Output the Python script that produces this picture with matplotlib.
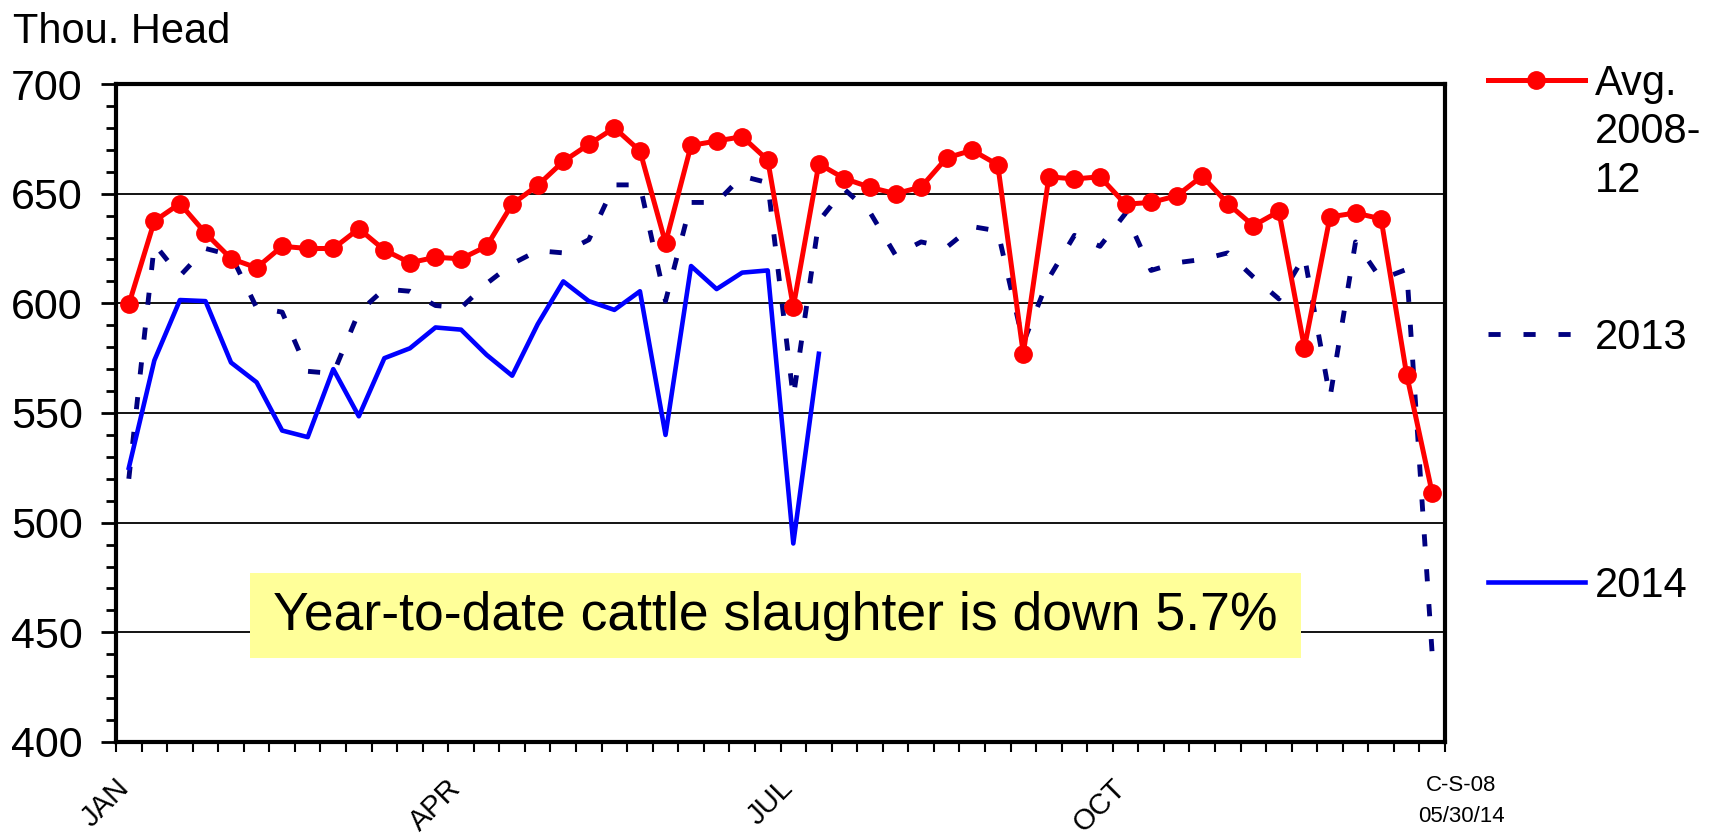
import numpy as np
import matplotlib
matplotlib.use('Agg')
import matplotlib.pyplot as plt
import matplotlib.transforms as mtransforms
from matplotlib.lines import Line2D
from matplotlib.patches import Rectangle
from matplotlib.ticker import MultipleLocator

plt.rcParams['font.family'] = ['Liberation Sans', 'DejaVu Sans']

# Weekly federally inspected cattle slaughter, thousand head (weeks 1-52)
avg_2008_12 = [599.5, 637.5, 645.5, 632, 620.4, 616.2, 626, 625, 625, 634,
               624.3, 618.5, 621, 620.3, 626, 645.2, 653.8, 664.7, 672.5, 680,
               669.5, 627.5, 672, 674, 676, 665.3, 598.3, 663.6, 656.9, 652.9,
               650, 653, 666.3, 669.8, 663.2, 577, 657.7, 656.7, 657.7, 645.2,
               646, 649, 658, 645.5, 635.4, 641.9, 579.8, 639.4, 641.2, 638.5,
               567.5, 513.5]
y2013 = [520, 627, 612.5, 625, 622, 598, 596, 569, 568, 596,
         606.5, 605.5, 599, 598, 609, 618, 624, 623, 629, 654,
         654, 601, 646, 646, 658, 655, 557, 637.5, 652, 641.5,
         622, 628, 625.5, 635, 633, 582, 611.5, 631, 626, 641,
         615, 618.5, 620, 623, 612, 602, 621.5, 557, 628, 611,
         615.5, 440]
y2014 = [525, 574, 601.5, 601, 573, 564, 542, 539, 570, 548.5,
         575, 579.5, 589, 588, 576.5, 567, 590.5, 610, 601, 597,
         605.5, 540, 617, 606.5, 614, 615, 490.5, 577]

month_labels = ['JAN', 'APR', 'JUL', 'OCT']
month_weeks = [0, 13, 26, 39]

weeks = np.arange(len(avg_2008_12)) + 0.5
dash13 = (0, (2.5, 4.7))

fig = plt.figure(figsize=(17.19, 8.35), dpi=100)
ax = fig.add_axes([0.0675, 0.1114, 0.7731, 0.788])

ax.plot(weeks, y2013, color='#000080', lw=3.5, linestyle=dash13,
        dash_capstyle='butt', zorder=2)
ax.plot(weeks[:len(y2014)], y2014, color='#0000FF', lw=3.3, zorder=3)
ax.plot(weeks, avg_2008_12, color='#FF0000', lw=3.6, marker='o', ms=12.5, zorder=4)

ax.set_xlim(0, 52)
ax.set_ylim(400, 700)
ax.set_yticks(range(400, 701, 50))
ax.yaxis.set_minor_locator(MultipleLocator(10))
ax.set_xticks(month_weeks)
ax.set_xticklabels(month_labels)
ax.set_xticks(range(0, 53), minor=True)
ax.yaxis.grid(True, color='black', lw=1.3)
ax.set_axisbelow(True)

for s in ax.spines.values():
    s.set_linewidth(3)

ax.tick_params(axis='y', which='major', length=11, width=2, labelsize=31, pad=13)
ax.tick_params(axis='y', which='minor', length=7, width=2)
ax.tick_params(axis='x', which='both', length=7, width=1.5, labelsize=21, pad=23)
shift = mtransforms.ScaledTranslation(6 / 72, 0, fig.dpi_scale_trans)
for lab in ax.get_xticklabels():
    lab.set_rotation(45)
    lab.set_ha('right')
    lab.set_va('center')
    lab.set_rotation_mode('anchor')
    lab.set_transform(lab.get_transform() + shift)

# Annotation box
ax.add_patch(Rectangle((0.1008, 0.1277), 0.7908, 0.1291, transform=ax.transAxes,
                       fc='#FFFF99', ec='none', zorder=5))
ax.text(0.4962, 0.192, 'Year-to-date cattle slaughter is down 5.7%',
        transform=ax.transAxes, ha='center', va='center', fontsize=38.5, zorder=6)

# Legend, split into pieces to match the uneven spacing
leg_kw = dict(loc='center left', frameon=False, fontsize=30, handlelength=2.33,
              handletextpad=0.25, borderaxespad=0, borderpad=0)
h_avg = Line2D([], [], color='#FF0000', lw=3.6, marker='o', ms=12.5)
h_13 = Line2D([], [], color='#000080', lw=3.5, linestyle=dash13)
h_14 = Line2D([], [], color='#0000FF', lw=3.3)
leg1 = ax.legend([h_avg], ['Avg.'], bbox_to_anchor=(1.032, 1.0), **leg_kw)
ax.add_artist(leg1)
leg2 = ax.legend([h_13], ['2013'], bbox_to_anchor=(1.032, 0.614), **leg_kw)
ax.add_artist(leg2)
ax.legend([h_14], ['2014'], bbox_to_anchor=(1.032, 0.237), **leg_kw)
ax.text(1.113, 0.957, '2008-\n12', transform=ax.transAxes, fontsize=30,
        va='top', ha='left', linespacing=1.27)

fig.text(0.0076, 0.9856, 'Thou. Head', fontsize=30, va='top', ha='left')
fig.text(0.85, 0.0407, 'C-S-08\n05/30/14', fontsize=16, ha='center',
         va='center', linespacing=1.6)

fig.savefig('out.png', dpi=100)
